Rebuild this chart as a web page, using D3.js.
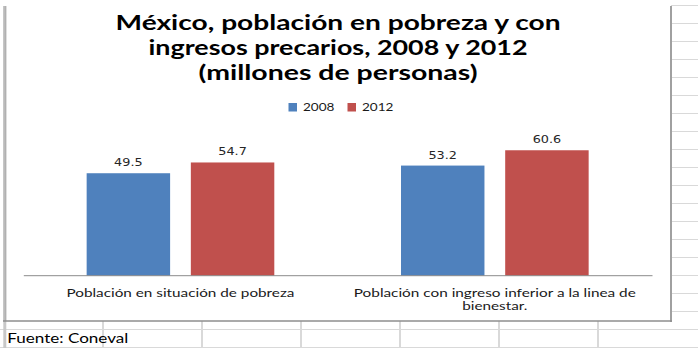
<!DOCTYPE html>
<html>
<head>
<meta charset="utf-8">
<script src="https://cdn.jsdelivr.net/npm/d3@7"></script>
<style>
  html, body { margin: 0; padding: 0; background: #fff; }
  svg { display: block; }
</style>
</head>
<body>
<svg id="chart" width="698" height="348"></svg>
<script>
// ---- data ----
const titleLines = [
  "México, población en pobreza  y con",
  "ingresos precarios, 2008  y 2012",
  "(millones de personas)"
];
const categories = [
  "Población en situación de pobreza",
  "Población con ingreso inferior a la linea de bienestar."
];
// wrapped tick labels, one array of lines per category
const categoryLines = [
  ["Población en situación de pobreza"],
  ["Población con ingreso inferior a la linea de", "bienestar."]
];
const seriesNames = ["2008", "2012"];
const values2008 = [49.5, 53.2];
const values2012 = [54.7, 60.6];
const yDomain = [0, 70];
const sourceNote = "Fuente: Coneval";

// ---- layout ----
const W = 698, H = 348;
const frame = { left: 4, right: 671, top: 6, bottom: 321 };
const plot = { left: 23.3, right: 652, top: 130.8, bottom: 275.7 };
const colors = { "2008": "#4f81bd", "2012": "#c0504d" };
const gridColor = "#d9d9d9";
const uiFont = "Lato, 'Open Sans', sans-serif";

const svg = d3.select("#chart");

// worksheet cells around the chart object
const grid = svg.append("g");
const rowYs = d3.range(0, 20).map(k => 5.5 + 18 * k);
grid.selectAll("line.row-right")
  .data(rowYs.filter(y => y < frame.bottom))
  .join("line")
  .attr("x1", frame.right).attr("x2", W)
  .attr("y1", d => d).attr("y2", d => d)
  .attr("stroke", gridColor).attr("stroke-width", 1);
grid.selectAll("line.row-bottom")
  .data(rowYs.filter(y => y > frame.bottom))
  .join("line")
  .attr("x1", 0).attr("x2", W)
  .attr("y1", d => d).attr("y2", d => d)
  .attr("stroke", gridColor).attr("stroke-width", 1);
const colXs = [103, 202, 301, 400, 499, 598];
grid.selectAll("line.col")
  .data(colXs)
  .join("line")
  .attr("x1", d => d).attr("x2", d => d)
  .attr("y1", frame.bottom).attr("y2", H)
  .attr("stroke", gridColor).attr("stroke-width", 2);
grid.append("line")
  .attr("x1", 4.8).attr("x2", 4.8).attr("y1", frame.bottom).attr("y2", H)
  .attr("stroke", "#c8c8c8").attr("stroke-width", 3);

// chart object frame
svg.append("rect")
  .attr("x", frame.left).attr("y", frame.top)
  .attr("width", frame.right - frame.left).attr("height", frame.bottom - frame.top)
  .attr("fill", "#fff");
svg.append("line")
  .attr("x1", 4.8).attr("x2", 4.8).attr("y1", frame.top).attr("y2", frame.bottom)
  .attr("stroke", "#c4c4c4").attr("stroke-width", 3.5);
svg.append("line")
  .attr("x1", 5.2).attr("x2", 5.2).attr("y1", frame.top).attr("y2", frame.bottom)
  .attr("stroke", "#a8a8a8").attr("stroke-width", 1);
svg.append("line")
  .attr("x1", frame.right).attr("x2", frame.right).attr("y1", frame.top).attr("y2", frame.bottom + 1)
  .attr("stroke", "#a0a0a0").attr("stroke-width", 2);
svg.append("line")
  .attr("x1", 3).attr("x2", frame.right + 1).attr("y1", frame.bottom).attr("y2", frame.bottom)
  .attr("stroke", "#8e8e8e").attr("stroke-width", 1.5);

// title
const titleBaselines = [30, 55, 80];
const titleWidths = [445, 379, 279];
svg.append("g").selectAll("text")
  .data(titleLines)
  .join("text")
  .attr("x", 338)
  .attr("y", (d, i) => titleBaselines[i])
  .attr("text-anchor", "middle")
  .attr("textLength", (d, i) => titleWidths[i])
  .attr("lengthAdjust", "spacingAndGlyphs")
  .style("font-family", uiFont)
  .style("font-weight", "700")
  .style("font-size", "20.5px")
  .style("fill", "#000")
  .text(d => d);

// scales
const x0 = d3.scaleBand().domain(categories).range([plot.left, plot.right]).padding(0);
const x1 = d3.scaleBand().domain(seriesNames).range([0, x0.bandwidth()])
  .paddingInner(0.199).paddingOuter(0.608);
const y = d3.scaleLinear().domain(yDomain).range([plot.bottom, plot.top]);

const series = seriesNames.map((name, si) => ({
  name,
  values: (si === 0 ? values2008 : values2012)
}));
const rows = [];
series.forEach(s => s.values.forEach((v, ci) => rows.push({ cat: categories[ci], name: s.name, value: v })));

// bars
svg.append("g").selectAll("rect")
  .data(rows)
  .join("rect")
  .attr("x", d => x0(d.cat) + x1(d.name))
  .attr("y", d => y(d.value))
  .attr("width", x1.bandwidth())
  .attr("height", d => y(0) - y(d.value))
  .attr("fill", d => colors[d.name]);

// value labels
svg.append("g").selectAll("text")
  .data(rows)
  .join("text")
  .attr("x", d => x0(d.cat) + x1(d.name) + x1.bandwidth() / 2)
  .attr("y", d => y(d.value) - 7)
  .attr("text-anchor", "middle")
  .attr("textLength", 28.5)
  .attr("lengthAdjust", "spacingAndGlyphs")
  .style("font-family", "'DejaVu Sans', sans-serif")
  .style("font-size", "10px")
  .style("fill", "#262626")
  .text(d => d.value.toFixed(1));

// category axis
const xAxis = d3.axisBottom(x0).tickSize(0).tickSizeOuter(0).tickFormat(() => "");
const axisG = svg.append("g")
  .attr("transform", `translate(0,${y(0) - 0.5})`)
  .call(xAxis);
axisG.select(".domain").attr("stroke", "#8c8c8c").attr("stroke-width", 1);
axisG.selectAll(".tick").remove();

// category labels
const catWidths = [[228], [282, 65]];
const catBaselines = [297.3, 310];
categoryLines.forEach((lines, ci) => {
  svg.append("g").selectAll("text")
    .data(lines)
    .join("text")
    .attr("x", x0(categories[ci]) + x0.bandwidth() / 2)
    .attr("y", (d, li) => catBaselines[li])
    .attr("text-anchor", "middle")
    .attr("textLength", (d, li) => catWidths[ci][li])
    .attr("lengthAdjust", "spacingAndGlyphs")
    .style("font-family", uiFont)
    .style("font-size", "10.5px")
    .style("fill", "#1a1a1a")
    .text(d => d);
});

// legend
const legendX = [288.5, 347.5];
const legend = svg.append("g").selectAll("g")
  .data(seriesNames)
  .join("g")
  .attr("transform", (d, i) => `translate(${legendX[i]},103)`);
legend.append("rect")
  .attr("width", 8.5).attr("height", 8.5)
  .attr("fill", d => colors[d]);
legend.append("text")
  .attr("x", 14.5).attr("y", 8.3)
  .attr("textLength", 31.5)
  .attr("lengthAdjust", "spacingAndGlyphs")
  .style("font-family", uiFont)
  .style("font-size", "11px")
  .style("fill", "#1a1a1a")
  .text(d => d);

// source note in the worksheet row below
svg.append("text")
  .attr("x", 7.3).attr("y", 343.3)
  .attr("textLength", 121)
  .attr("lengthAdjust", "spacingAndGlyphs")
  .style("font-family", uiFont)
  .style("font-size", "13px")
  .style("fill", "#000")
  .text(sourceNote);
</script>
</body>
</html>
